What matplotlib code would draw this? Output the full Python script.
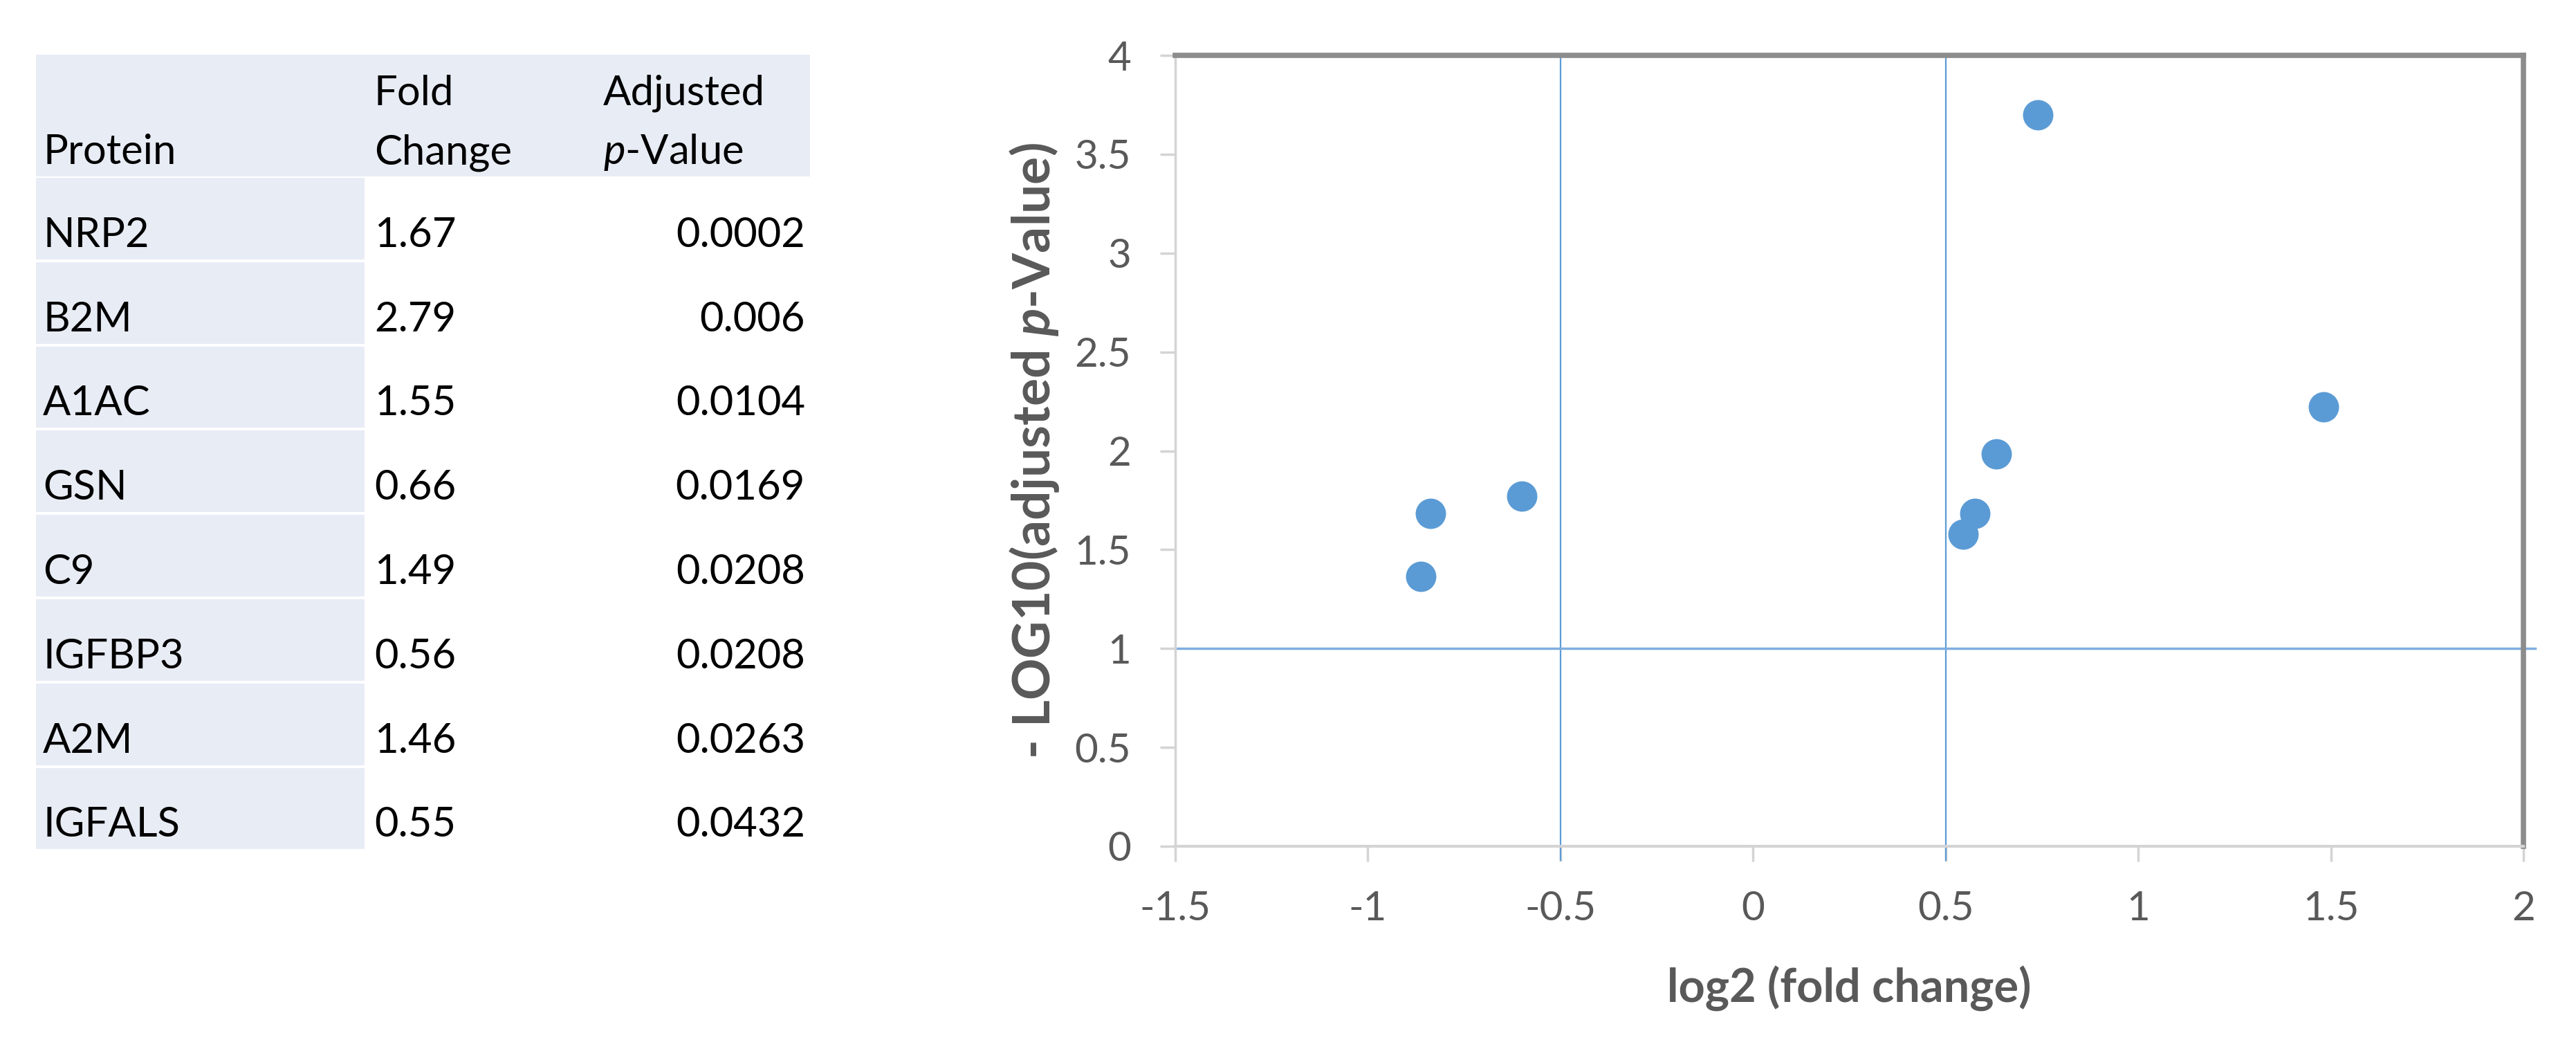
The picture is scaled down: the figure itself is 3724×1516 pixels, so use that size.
import numpy as np
import matplotlib
matplotlib.use("Agg")
import matplotlib.pyplot as plt
from matplotlib.patches import Rectangle
from matplotlib.ticker import MultipleLocator, FormatStrFormatter

# table data
proteins = ["NRP2", "B2M", "A1AC", "GSN", "C9", "IGFBP3", "A2M", "IGFALS"]
foldChange = [1.67, 2.79, 1.55, 0.66, 1.49, 0.56, 1.46, 0.55]
adjPValue = ["0.0002", "0.006", "0.0104", "0.0169", "0.0208", "0.0208", "0.0263", "0.0432"]

# volcano thresholds
foldCut = [-0.5, 0.5]
pCut = 1

plt.rcParams["font.family"] = ["Lato", "DejaVu Sans"]
plt.rcParams["mathtext.fontset"] = "custom"
plt.rcParams["mathtext.rm"] = "Lato"
plt.rcParams["mathtext.it"] = "Lato:italic"
plt.rcParams["mathtext.bf"] = "Lato:bold"
plt.rcParams["mathtext.bfit"] = "Lato:bold:italic"

W, H = 3724, 1516
fig = plt.figure(figsize=(W / 100, H / 100), dpi=100)

# ---- table, drawn in pixel coords ----
tab = fig.add_axes([0, 0, 1, 1])
tab.set_xlim(0, W)
tab.set_ylim(H, 0)
tab.axis("off")

shade = "#E8ECF5"
tabLeft, tabRight, col1Right = 52, 1171, 527
headTop, headBottom, rowH = 79, 255, 121.8
tableFont = 43

tab.add_patch(Rectangle((tabLeft, headTop), tabRight - tabLeft, headBottom - headTop, color=shade, lw=0))
for i, name in enumerate(proteins):
    top = headBottom + i * rowH
    tab.add_patch(Rectangle((tabLeft, top + 2), col1Right - tabLeft, rowH - 4, color=shade, lw=0))
    base = top + rowH - 20
    tab.text(62, base, name, fontsize=tableFont, va="baseline", ha="left")
    tab.text(541, base, f"{foldChange[i]:.2f}", fontsize=tableFont, va="baseline", ha="left")
    tab.text(1164, base, adjPValue[i], fontsize=tableFont, va="baseline", ha="right")

tab.text(62, 237, "Protein", fontsize=tableFont, va="baseline")
tab.text(541, 152, "Fold", fontsize=tableFont, va="baseline")
tab.text(541, 237, "Change", fontsize=tableFont, va="baseline")
tab.text(872, 152, "Adjusted", fontsize=tableFont, va="baseline")
tab.text(872, 237, "$p$-Value", fontsize=tableFont, va="baseline")

# ---- volcano plot ----
axL, axR, axT, axB = 1699, 3648, 80, 1223
ax = fig.add_axes([axL / W, 1 - axB / H, (axR - axL) / W, (axB - axT) / H])

log2fc = np.log2(foldChange)
negLogP = -np.log10([float(p) for p in adjPValue])

blue = "#5B9BD5"
for x in foldCut:
    ax.plot([x, x], [-0.07, 4], color=blue, lw=1.6, clip_on=False, zorder=2)
ax.plot([-1.5, 2.03], [pCut, pCut], color="#7FAEE0", lw=2.5, clip_on=False, zorder=2)
ax.scatter(log2fc, negLogP, s=1000, color=blue, lw=0, zorder=3)

ax.set_xlim(-1.5, 2)
ax.set_ylim(0, 4)
ax.xaxis.set_major_locator(MultipleLocator(0.5))
ax.yaxis.set_major_locator(MultipleLocator(0.5))
ax.xaxis.set_major_formatter(FormatStrFormatter("%g"))
ax.yaxis.set_major_formatter(FormatStrFormatter("%g"))

light = "#D4D4D4"
dark = "#8C8C8C"
ax.spines["left"].set_color(light)
ax.spines["bottom"].set_color(light)
ax.spines["left"].set_linewidth(2.5)
ax.spines["bottom"].set_linewidth(3)
ax.spines["top"].set_color(dark)
ax.spines["right"].set_color(dark)
ax.spines["top"].set_linewidth(5.5)
ax.spines["right"].set_linewidth(5.5)
ax.tick_params(axis="both", colors=light, width=2.5, length=16, labelsize=42,
               labelcolor="#595959", pad=30)

ax.set_xlabel("log2 (fold change)", fontsize=48, fontweight="bold", color="#595959", labelpad=40)
ax.set_ylabel(r"- LOG10(adjusted $\mathbfit{p}$-Value)", fontsize=54, fontweight="bold",
              color="#595959", labelpad=14)

fig.savefig("out.png", dpi=100)
